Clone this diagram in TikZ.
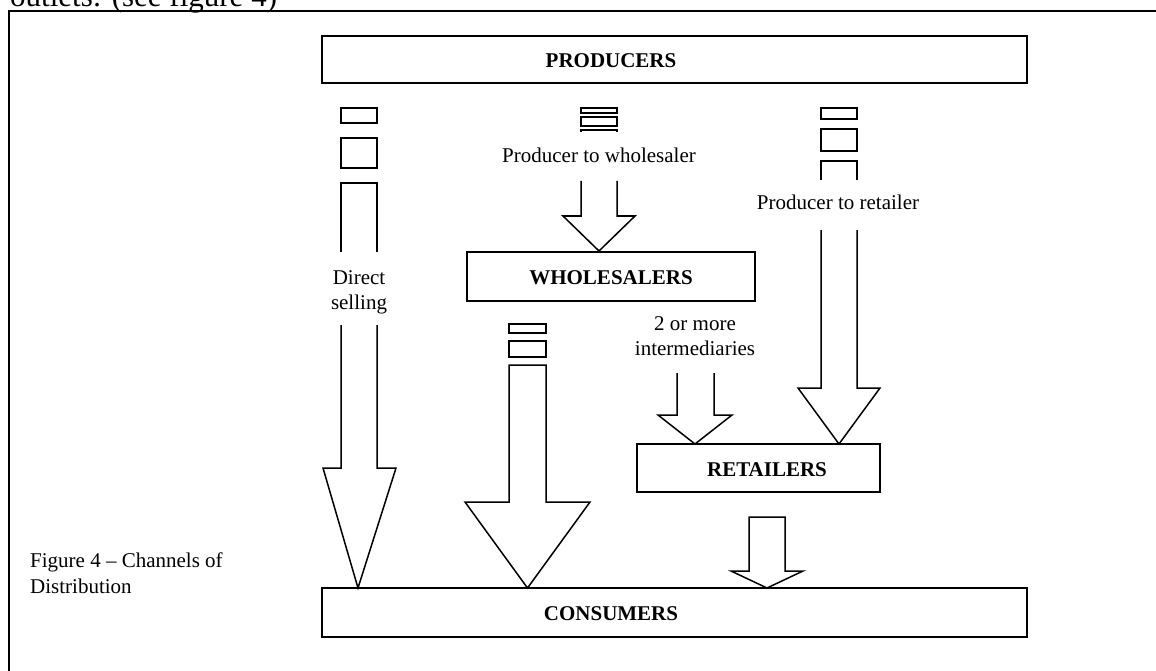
\documentclass[tikz,border=0pt]{standalone}
\usepackage{fontspec}
\setmainfont{Liberation Serif}
\begin{document}
\begin{tikzpicture}[x=1pt,y=-1pt,
  ln/.style={draw=black,line width=1.5pt,line join=miter},
  frame/.style={draw=black,line width=2pt},
  box/.style={draw=black,line width=1.5pt,inner sep=0pt,minimum width=#1},
  txt/.style={inner sep=0pt,anchor=base,font=\fontsize{21}{25}\selectfont},
  head/.style={txt,font=\fontsize{21}{25}\selectfont\bfseries},
  mtxt/.style={inner sep=0pt,align=center,font=\fontsize{21}{25}\selectfont}]
\useasboundingbox (0,0) rectangle (1156,671);

% running text above the frame and the frame itself
\node[inner sep=0pt,anchor=base west,font=\fontsize{31}{31}\selectfont] (lead) at (10,7) {outlets: (see figure 4)};
\draw[frame] (9,672) -- (9,11) -- (1157,11);

% stages of the channel
\node[box=705pt,minimum height=47pt] (prod) at (674.5,59.5) {};
\node[box=288pt,minimum height=49pt] (whole) at (611,276.5) {};
\node[box=243pt,minimum height=48pt] (ret) at (758.5,468) {};
\node[box=705pt,minimum height=49pt] (cons) at (674.5,612.5) {};
\node[head] (prodT) at (611,68) {PRODUCERS};
\node[head] (wholeT) at (611,284) {WHOLESALERS};
\node[head] (retT) at (767,476) {RETAILERS};
\node[head] (consT) at (611,620) {CONSUMERS};

% direct selling
\draw[ln] (341,108) rectangle (377,123);
\draw[ln] (341,138) rectangle (377,168);
\draw[ln] (341,252) -- (341,183) -- (377,183) -- (377,252);
\node[mtxt] (direct) at (359,292) {Direct\\selling};
\draw[ln] (341,325) -- (341,468) -- (323,468) -- (358,588) -- (396,468) -- (377,468) -- (377,325);

% producer to wholesaler
\draw[ln] (581,108) rectangle (617,113);
\draw[ln] (581,117) rectangle (617,126);
\draw[ln] (581,132) -- (581,130) -- (617,130) -- (617,132);
\node[txt] (pw) at (599,163) {Producer to wholesaler};
\draw[ln] (581,181) -- (581,216) -- (563,216) -- (599,251) -- (635,216) -- (617,216) -- (617,181);

% producer to retailer
\draw[ln] (821,108) rectangle (857,119);
\draw[ln] (821,129) rectangle (857,151);
\draw[ln] (821,180) -- (821,161) -- (857,161) -- (857,180);
\node[txt] (pr) at (838,209) {Producer to retailer};
\draw[ln] (821,230) -- (821,388) -- (798,388) -- (839,444) -- (880,388) -- (857,388) -- (857,230);

% wholesaler to consumer
\draw[ln] (509,324) rectangle (546,333);
\draw[ln] (509,341) rectangle (546,357);
\draw[ln] (509,502) -- (509,365) -- (546,365) -- (546,502) -- (590,502) -- (527.5,588) -- (465,502) -- cycle;

% two or more intermediaries
\node[mtxt] (inter) at (695,336) {2 or more\\intermediaries};
\draw[ln] (677,373) -- (677,415) -- (658,415) -- (695,444) -- (732,415) -- (714,415) -- (714,373);

% retailer to consumer
\draw[ln] (749,571) -- (749,517) -- (785,517) -- (785,571) -- (803,571) -- (767,588) -- (731,571) -- cycle;

% caption
\node[inner sep=0pt,anchor=base west,align=left,font=\fontsize{21}{26}\selectfont] (cap) at (30,593) {Figure 4 -- Channels of\\Distribution};
\end{tikzpicture}
\end{document}
